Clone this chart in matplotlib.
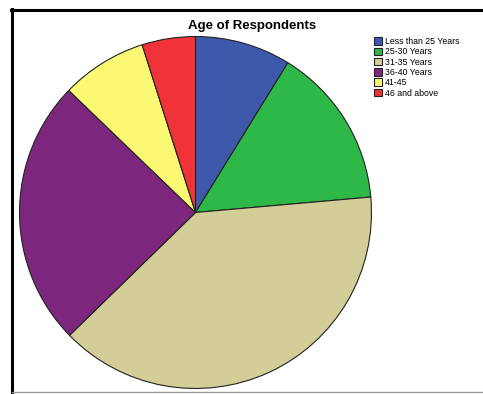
import matplotlib.pyplot as plt
from matplotlib.lines import Line2D

plt.rcParams['font.family'] = ['Liberation Sans', 'DejaVu Sans']

# age groups and their shares (percent)
labels = ['Less than 25 Years', '25-30 Years', '31-35 Years', '36-40 Years', '41-45', '46 and above']
shares = [8.8, 14.8, 39.1, 24.5, 7.9, 4.9]
colors = ['#3E58AC', '#2EB848', '#D3CE97', '#7C277D', '#FBF873', '#EF3338']

W, H = 483, 394
fig = plt.figure(figsize=(W / 100, H / 100), dpi=100)

# pie centre and radius in pixels
cx, cy, r = 195.5, 212.5, 176.5
ax = fig.add_axes([(cx - r) / W, (H - cy - r) / H, 2 * r / W, 2 * r / H])
wedges, _ = ax.pie(shares, colors=colors, startangle=90, counterclock=False,
                   wedgeprops=dict(edgecolor='#222222', linewidth=0.8))
ax.set_xlim(-1.003, 1.003)
ax.set_ylim(-1.003, 1.003)
ax.axis('off')

fig.text(252 / W, 1 - 26 / H, 'Age of Respondents', ha='center', va='center',
         fontsize=9.5, fontweight='bold')

fig.legend(wedges, labels, loc='upper left', bbox_to_anchor=(373.5 / W, 1 - 37 / H),
           frameon=False, fontsize=6.3, handlelength=0.95, handleheight=0.95,
           labelspacing=0.15, handletextpad=0.35, borderpad=0, borderaxespad=0)

# frame lines like the original screenshot
fig.add_artist(Line2D([11.5 / W, 11.5 / W], [0, 1 - 8.5 / H], transform=fig.transFigure,
                      color='black', linewidth=2.2))
fig.add_artist(Line2D([10.5 / W, 1], [1 - 9.5 / H, 1 - 9.5 / H], transform=fig.transFigure,
                      color='black', linewidth=2.2))
fig.add_artist(Line2D([12 / W, 1], [1 - 391.5 / H, 1 - 391.5 / H], transform=fig.transFigure,
                      color='#999999', linewidth=1.0))

fig.savefig('out.png', dpi=100)
